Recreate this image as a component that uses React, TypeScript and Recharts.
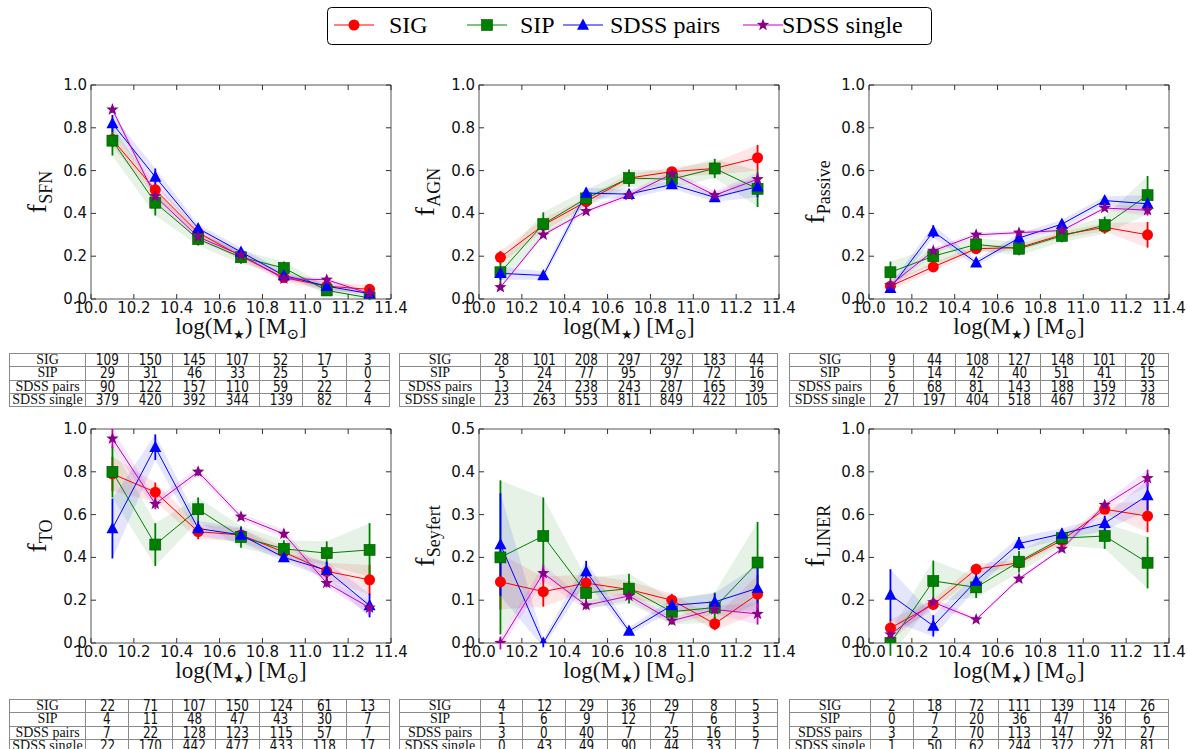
import React from 'react';
import { ComposedChart, Line, Area, XAxis, YAxis, ErrorBar, ReferenceArea } from 'recharts';

const masses = [10.1, 10.3, 10.5, 10.7, 10.9, 11.1, 11.3];
const massTicks = [10.0, 10.2, 10.4, 10.6, 10.8, 11.0, 11.2, 11.4];
const fracTicks = [0, 0.2, 0.4, 0.6, 0.8, 1.0];
const seyfertTicks = [0, 0.1, 0.2, 0.3, 0.4, 0.5];
const seriesNames = ['SIG', 'SIP', 'SDSS pairs', 'SDSS single'];
const seriesKeys = ['sig', 'sip', 'pairs', 'single'];

// rows of each array: SIG, SIP, SDSS pairs, SDSS single
const sfnValues = [
  [0.745, 0.51, 0.31, 0.2, 0.1, 0.06, 0.045],
  [0.74, 0.45, 0.28, 0.195, 0.145, 0.04, 0.005],
  [0.82, 0.57, 0.33, 0.22, 0.11, 0.06, 0.025],
  [0.885, 0.48, 0.29, 0.205, 0.095, 0.09, 0.025],
];
const sfnErrors = [
  [0.035, 0.03, 0.02, 0.02, 0.02, 0.02, 0.02],
  [0.07, 0.06, 0.03, 0.03, 0.03, 0.02, 0.01],
  [0.04, 0.04, 0.02, 0.02, 0.02, 0.015, 0.01],
  [0.015, 0.02, 0.02, 0.015, 0.01, 0.01, 0.01],
];
const sfnCounts = [
  [109, 150, 145, 107, 52, 17, 3],
  [29, 31, 46, 33, 25, 5, 0],
  [90, 122, 157, 110, 59, 22, 2],
  [379, 420, 392, 344, 139, 82, 4],
];

const agnValues = [
  [0.195, 0.345, 0.455, 0.565, 0.595, 0.61, 0.66],
  [0.125, 0.35, 0.47, 0.565, 0.56, 0.61, 0.515],
  [0.12, 0.11, 0.495, 0.49, 0.535, 0.475, 0.525],
  [0.055, 0.3, 0.41, 0.485, 0.585, 0.485, 0.56],
];
const agnErrors = [
  [0.03, 0.03, 0.02, 0.02, 0.02, 0.03, 0.06],
  [0.05, 0.055, 0.04, 0.04, 0.04, 0.045, 0.085],
  [0.03, 0.02, 0.025, 0.02, 0.02, 0.02, 0.05],
  [0.01, 0.01, 0.01, 0.015, 0.015, 0.02, 0.03],
];
const agnCounts = [
  [28, 101, 208, 297, 292, 183, 44],
  [5, 24, 77, 95, 97, 72, 16],
  [13, 24, 238, 243, 287, 165, 39],
  [23, 263, 553, 811, 849, 422, 105],
];

const passiveValues = [
  [0.06, 0.15, 0.235, 0.24, 0.3, 0.335, 0.3],
  [0.125, 0.2, 0.255, 0.235, 0.295, 0.345, 0.485],
  [0.05, 0.315, 0.17, 0.285, 0.35, 0.46, 0.445],
  [0.065, 0.225, 0.3, 0.31, 0.32, 0.425, 0.415],
];
const passiveErrors = [
  [0.02, 0.02, 0.015, 0.015, 0.015, 0.02, 0.06],
  [0.05, 0.04, 0.03, 0.03, 0.03, 0.04, 0.09],
  [0.02, 0.03, 0.015, 0.02, 0.02, 0.02, 0.04],
  [0.02, 0.015, 0.01, 0.01, 0.01, 0.01, 0.025],
];
const passiveCounts = [
  [9, 44, 108, 127, 148, 101, 20],
  [5, 14, 42, 40, 51, 41, 15],
  [6, 68, 81, 143, 188, 159, 33],
  [27, 197, 404, 518, 467, 372, 78],
];

const toValues = [
  [0.79, 0.705, 0.52, 0.505, 0.425, 0.335, 0.295],
  [0.8, 0.46, 0.625, 0.495, 0.44, 0.42, 0.435],
  [0.535, 0.915, 0.535, 0.505, 0.4, 0.34, 0.175],
  [0.955, 0.65, 0.8, 0.59, 0.51, 0.28, 0.165],
];
const toErrors = [
  [0.08, 0.045, 0.035, 0.03, 0.025, 0.04, 0.07],
  [0.12, 0.1, 0.055, 0.05, 0.04, 0.055, 0.125],
  [0.14, 0.06, 0.035, 0.035, 0.02, 0.04, 0.055],
  [0.045, 0.025, 0.02, 0.015, 0.02, 0.02, 0.03],
];
const toCounts = [
  [22, 71, 107, 150, 124, 61, 13],
  [4, 11, 48, 47, 43, 30, 7],
  [7, 22, 128, 123, 115, 57, 7],
  [22, 170, 442, 477, 433, 118, 17],
];

const seyfertValues = [
  [0.143, 0.12, 0.14, 0.125, 0.1, 0.045, 0.114],
  [0.2, 0.25, 0.117, 0.127, 0.073, 0.083, 0.188],
  [0.23, 0.0, 0.167, 0.028, 0.088, 0.096, 0.128],
  [0.0, 0.163, 0.088, 0.11, 0.052, 0.078, 0.068],
];
const seyfertErrors = [
  [0.065, 0.035, 0.02, 0.02, 0.015, 0.015, 0.045],
  [0.18, 0.09, 0.035, 0.035, 0.03, 0.035, 0.095],
  [0.12, 0.01, 0.025, 0.008, 0.015, 0.02, 0.055],
  [0.015, 0.02, 0.01, 0.01, 0.008, 0.01, 0.025],
];
const seyfertCounts = [
  [4, 12, 29, 36, 29, 8, 5],
  [1, 6, 9, 12, 7, 6, 3],
  [3, 0, 40, 7, 25, 16, 5],
  [0, 43, 49, 90, 44, 33, 7],
];

const linerValues = [
  [0.07, 0.18, 0.345, 0.375, 0.48, 0.625, 0.593],
  [0.0, 0.29, 0.26, 0.38, 0.49, 0.5, 0.375],
  [0.225, 0.08, 0.29, 0.465, 0.51, 0.56, 0.69],
  [0.04, 0.19, 0.11, 0.3, 0.44, 0.645, 0.77],
];
const linerErrors = [
  [0.04, 0.025, 0.025, 0.015, 0.015, 0.02, 0.075],
  [0.06, 0.095, 0.05, 0.05, 0.035, 0.06, 0.12],
  [0.12, 0.05, 0.035, 0.03, 0.025, 0.035, 0.07],
  [0.03, 0.02, 0.01, 0.01, 0.01, 0.015, 0.04],
];
const linerCounts = [
  [2, 18, 72, 111, 139, 114, 26],
  [0, 7, 20, 36, 47, 36, 6],
  [3, 2, 70, 113, 147, 92, 27],
  [1, 50, 62, 244, 372, 271, 81],
];

const seriesColors = ['#ff0000', '#008000', '#0000ff', '#c000c0'];
const markerFills = ['#ff0000', '#008000', '#0000ff', '#880088'];
const markerShapes = ['circle', 'square', 'triangle', 'star'];

const Y_AXIS_W = 90;
const M_TOP = 10;
const M_RIGHT = 25;
const PLOT_W = 300;
const PLOT_H = 214;
const X_AXIS_H = 50;
const CHART_W = Y_AXIS_W + PLOT_W + M_RIGHT;
const CHART_H = M_TOP + PLOT_H + X_AXIS_H;
const PLOT_LEFT = Y_AXIS_W;
const PLOT_RIGHT = Y_AXIS_W + PLOT_W;
const PLOT_TOP = M_TOP;
const PLOT_BOTTOM = M_TOP + PLOT_H;
const SERIF = '"Liberation Serif", "DejaVu Serif", serif';
const SANS = '"DejaVu Sans", sans-serif';

function Marker({ cx, cy, shape, fill }: any) {
  if (cx == null || cy == null) return null;
  if (shape === 'circle') return <circle cx={cx} cy={cy} r={5.5} fill={fill} />;
  if (shape === 'square')
    return <rect x={cx - 5.5} y={cy - 5.5} width={11} height={11} fill={fill} stroke="#005000" strokeWidth={0.6} />;
  if (shape === 'triangle')
    return <polygon points={`${cx},${cy - 6.5} ${cx - 6},${cy + 4.8} ${cx + 6},${cy + 4.8}`} fill={fill} />;
  const pts: string[] = [];
  for (let k = 0; k < 10; k++) {
    const a = (-90 + k * 36) * (Math.PI / 180);
    const r = k % 2 === 0 ? 6.5 : 2.7;
    pts.push(`${cx + r * Math.cos(a)},${cy + r * Math.sin(a)}`);
  }
  return <polygon points={pts.join(' ')} fill={fill} />;
}

const XTick = (p: any) => {
  const x = p.x;
  return (
    <g>
      <line x1={x} y1={PLOT_BOTTOM} x2={x} y2={PLOT_BOTTOM - 5} stroke="#333" />
      <line x1={x} y1={PLOT_TOP} x2={x} y2={PLOT_TOP + 5} stroke="#333" />
      <text x={x} y={PLOT_BOTTOM + 14} textAnchor="middle" fontFamily={SANS} fontSize={15} fill="#111">
        {Number(p.payload.value).toFixed(1)}
      </text>
    </g>
  );
};

const YTick = (p: any) => {
  const y = p.y;
  return (
    <g>
      <line x1={PLOT_LEFT} y1={y} x2={PLOT_LEFT + 5} y2={y} stroke="#333" />
      <line x1={PLOT_RIGHT} y1={y} x2={PLOT_RIGHT - 5} y2={y} stroke="#333" />
      <text x={PLOT_LEFT - 4} y={y + 5} textAnchor="end" fontFamily={SANS} fontSize={15} fill="#111">
        {Number(p.payload.value).toFixed(1)}
      </text>
    </g>
  );
};

const XLabel = () => (
  <text x={PLOT_LEFT + PLOT_W / 2} y={PLOT_BOTTOM + 35} textAnchor="middle" fontFamily={SERIF} fontSize={23} fill="#111">
    log(M<tspan fontSize={13} dy={5}>★</tspan>
    <tspan dy={-5}>) [M</tspan>
    <tspan fontSize={15} dy={5}>⊙</tspan>
    <tspan dy={-5}>]</tspan>
  </text>
);

const YLabel = ({ sub }: any) => (
  <text
    transform={`translate(${PLOT_LEFT - 45}, ${PLOT_TOP + PLOT_H / 2}) rotate(-90)`}
    textAnchor="middle"
    fontFamily={SERIF}
    fontSize={28}
    fill="#111"
  >
    f<tspan fontSize={18} dy={6}>{sub}</tspan>
  </text>
);

function Panel({ left, top, values, errors, yMax, yTicks, sub }: any) {
  const rows = masses.map((x, i) => {
    const row: any = { x };
    seriesKeys.forEach((k, s) => {
      const v = values[s][i];
      const e = errors[s][i];
      row[k] = v;
      row[k + 'Err'] = e;
      row[k + 'Band'] = [v - e, v + e];
    });
    return row;
  });
  return (
    <div style={{ position: 'absolute', left: left - Y_AXIS_W, top: top - M_TOP }}>
      <ComposedChart width={CHART_W} height={CHART_H} data={rows} margin={{ top: M_TOP, right: M_RIGHT, bottom: 0, left: 0 }}>
        <XAxis
          type="number"
          dataKey="x"
          domain={[10, 11.4]}
          ticks={massTicks}
          interval={0}
          allowDataOverflow
          height={X_AXIS_H}
          tickLine={false}
          axisLine={false}
          tick={(p: any) => <XTick {...p} />}
          label={<XLabel />}
        />
        <YAxis
          type="number"
          domain={[0, yMax]}
          ticks={yTicks}
          interval={0}
          allowDataOverflow
          width={Y_AXIS_W}
          tickLine={false}
          axisLine={false}
          tick={(p: any) => <YTick {...p} />}
          label={<YLabel sub={sub} />}
        />
        {seriesKeys.map((k, s) => (
          <Area
            key={k + 'Band'}
            type="linear"
            dataKey={k + 'Band'}
            stroke="none"
            fill={seriesColors[s]}
            fillOpacity={0.1}
            dot={false}
            activeDot={false}
            isAnimationActive={false}
          />
        ))}
        {seriesKeys.map((k, s) => (
          <Line
            key={k}
            type="linear"
            dataKey={k}
            stroke={seriesColors[s]}
            strokeWidth={1}
            activeDot={false}
            isAnimationActive={false}
            dot={(p: any) => (
              <Marker key={`${k}-dot-${p.index}`} cx={p.cx} cy={p.cy} shape={markerShapes[s]} fill={markerFills[s]} />
            )}
          >
            <ErrorBar dataKey={k + 'Err'} width={0} stroke={seriesColors[s]} strokeWidth={1.8} direction="y" />
          </Line>
        ))}
        <ReferenceArea x1={10} x2={11.4} y1={0} y2={yMax} fill="none" stroke="#555" strokeWidth={1} ifOverflow="visible" />
      </ComposedChart>
    </div>
  );
}

function CountTable({ left, top, col1, width, counts }: any) {
  const cell: React.CSSProperties = {
    border: '1px solid #8a8a8a',
    padding: 0,
    height: 12.3,
    lineHeight: '12px',
    textAlign: 'center',
    fontFamily: SANS,
    fontSize: 15,
    color: '#111',
    overflow: 'visible',
    whiteSpace: 'nowrap',
  };
  const squeeze: React.CSSProperties = { display: 'inline-block', transform: 'scaleX(0.8)' };
  return (
    <table
      style={{
        position: 'absolute',
        left,
        top,
        width,
        borderCollapse: 'collapse',
        tableLayout: 'fixed',
        border: '1.5px solid #777',
      }}
    >
      <colgroup>
        <col style={{ width: col1 }} />
        {masses.map((m) => (
          <col key={m} />
        ))}
      </colgroup>
      <tbody>
        {seriesNames.map((name, s) => (
          <tr key={name}>
            <td style={{ ...cell, fontFamily: SERIF, fontSize: 14 }}>{name}</td>
            {counts[s].map((c: number, i: number) => (
              <td key={i} style={cell}>
                <span style={squeeze}>{c}</span>
              </td>
            ))}
          </tr>
        ))}
      </tbody>
    </table>
  );
}

function LegendIcon({ x, s }: any) {
  return (
    <g>
      <line x1={x - 20} y1={18} x2={x + 20} y2={18} stroke={seriesColors[s]} strokeWidth={1} />
      <Marker cx={x} cy={18} shape={markerShapes[s]} fill={markerFills[s]} />
    </g>
  );
}

const legendMarkerX = [27, 160, 256, 436];
const legendTextX = [62, 193, 283, 455];

function TopLegend() {
  return (
    <svg style={{ position: 'absolute', left: 327, top: 7 }} width={605} height={38}>
      <rect x={0.5} y={0.5} width={604} height={37} rx={4} fill="#fff" stroke="#000" strokeWidth={1} />
      {seriesNames.map((name, s) => (
        <g key={name}>
          <LegendIcon x={legendMarkerX[s]} s={s} />
          <text x={legendTextX[s]} y={26} fontFamily={SERIF} fontSize={24} fill="#000">
            {name}
          </text>
        </g>
      ))}
    </svg>
  );
}

const panelLefts = [91, 479, 869];
const tableLefts = [9, 399, 789];
const tableCol1 = [76, 81, 81];
const tableWidths = [381, 379, 380];

export default function App() {
  return (
    <div
      style={{
        position: 'absolute',
        left: 0,
        top: 0,
        width: 1187,
        height: 749,
        overflow: 'hidden',
        background: '#fff',
      }}
    >
      <TopLegend />
      <Panel left={panelLefts[0]} top={85} values={sfnValues} errors={sfnErrors} yMax={1} yTicks={fracTicks} sub="SFN" />
      <Panel left={panelLefts[1]} top={85} values={agnValues} errors={agnErrors} yMax={1} yTicks={fracTicks} sub="AGN" />
      <Panel left={panelLefts[2]} top={85} values={passiveValues} errors={passiveErrors} yMax={1} yTicks={fracTicks} sub="Passive" />
      <Panel left={panelLefts[0]} top={429} values={toValues} errors={toErrors} yMax={1} yTicks={fracTicks} sub="TO" />
      <Panel left={panelLefts[1]} top={429} values={seyfertValues} errors={seyfertErrors} yMax={0.5} yTicks={seyfertTicks} sub="Seyfert" />
      <Panel left={panelLefts[2]} top={429} values={linerValues} errors={linerErrors} yMax={1} yTicks={fracTicks} sub="LINER" />
      <CountTable left={tableLefts[0]} top={353} col1={tableCol1[0]} width={tableWidths[0]} counts={sfnCounts} />
      <CountTable left={tableLefts[1]} top={353} col1={tableCol1[1]} width={tableWidths[1]} counts={agnCounts} />
      <CountTable left={tableLefts[2]} top={353} col1={tableCol1[2]} width={tableWidths[2]} counts={passiveCounts} />
      <CountTable left={tableLefts[0]} top={699} col1={tableCol1[0]} width={tableWidths[0]} counts={toCounts} />
      <CountTable left={tableLefts[1]} top={699} col1={tableCol1[1]} width={tableWidths[1]} counts={seyfertCounts} />
      <CountTable left={tableLefts[2]} top={699} col1={tableCol1[2]} width={tableWidths[2]} counts={linerCounts} />
    </div>
  );
}
